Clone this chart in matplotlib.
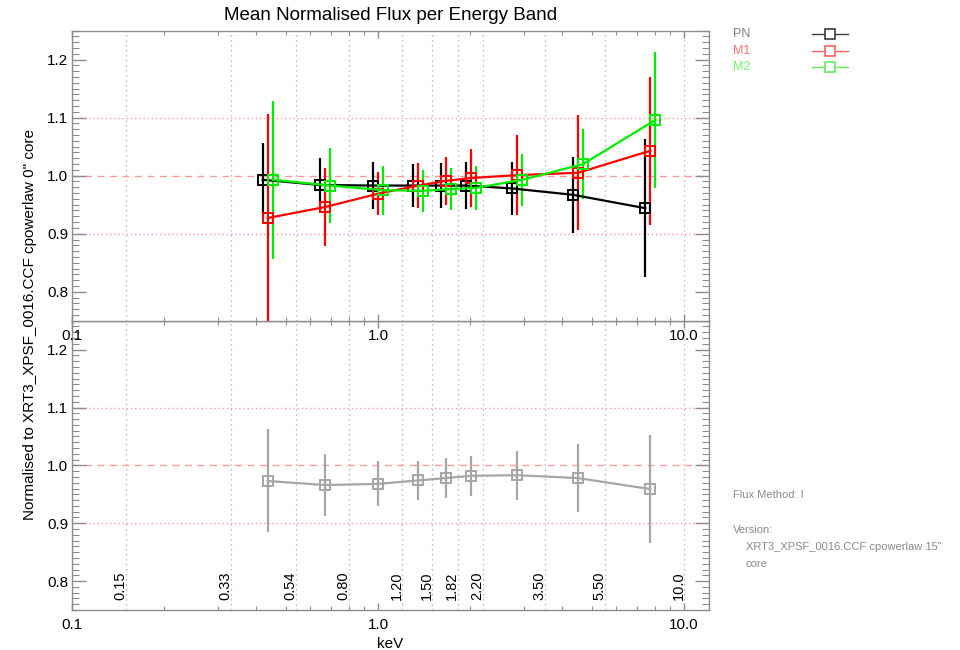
import matplotlib

matplotlib.use("Agg")
import matplotlib.pyplot as plt  # noqa: E402
from matplotlib.lines import Line2D  # noqa: E402
from matplotlib.ticker import FixedLocator, LogLocator, MultipleLocator, NullFormatter  # noqa: E402
import numpy as np  # noqa: E402

plt.rcParams["font.family"] = ["Liberation Sans", "DejaVu Sans"]

# --- data ---
band_edges = [0.15, 0.33, 0.54, 0.80, 1.20, 1.50, 1.82, 2.20, 3.50, 5.50, 10.0]
band_labels = ["0.15", "0.33", "0.54", "0.80", "1.20", "1.50", "1.82", "2.20", "3.50", "5.50", "10.0"]

pn_flux = [0.993, 0.984, 0.983, 0.983, 0.983, 0.983, 0.978, 0.967, 0.944]
pn_err = [0.064, 0.047, 0.040, 0.037, 0.039, 0.040, 0.046, 0.065, 0.119]
m1_flux = [0.927, 0.946, 0.969, 0.983, 0.991, 0.996, 1.001, 1.005, 1.043]
m1_err = [0.180, 0.068, 0.037, 0.039, 0.041, 0.050, 0.069, 0.099, 0.128]
m2_flux = [0.993, 0.983, 0.975, 0.974, 0.977, 0.979, 0.993, 1.020, 1.096]
m2_err = [0.136, 0.065, 0.042, 0.036, 0.037, 0.038, 0.045, 0.060, 0.117]
comb_flux = [0.973, 0.966, 0.968, 0.974, 0.978, 0.982, 0.983, 0.978, 0.959]
comb_err = [0.089, 0.053, 0.039, 0.034, 0.034, 0.035, 0.042, 0.059, 0.094]

# data bands are 0.33-0.54 ... 5.50-10.0, plotted at their arithmetic centre
edges = np.array(band_edges)
centres = 0.5 * (edges[1:-1] + edges[2:])
dodge = 1.038  # small log-space offset so the three cameras don't overlap

FRAME = "#8c8c8c"
PINK = "#ff9a9a"
GRID = "#a8a8a8"


def _style_axes(ax):
    ax.set_xscale("log")
    ax.set_xlim(0.1, 12.05)
    ax.set_ylim(0.75, 1.25)
    for s in ax.spines.values():
        s.set_color(FRAME)
        s.set_linewidth(1.0)
    ax.xaxis.set_major_locator(FixedLocator([0.1, 1.0, 10.0]))
    ax.xaxis.set_minor_locator(LogLocator(base=10, subs=np.arange(2, 10)))
    ax.xaxis.set_minor_formatter(NullFormatter())
    ax.set_xticklabels(["0.1", "1.0", "10.0"])
    ax.yaxis.set_major_locator(FixedLocator([0.8, 0.9, 1.0, 1.1, 1.2]))
    ax.yaxis.set_minor_locator(MultipleLocator(0.01))
    ax.set_yticklabels(["0.8", "0.9", "1.0", "1.1", "1.2"])
    ax.tick_params(axis="both", which="both", direction="in", colors=FRAME,
                   labelcolor="black", labelsize=11, top=True, right=True)
    ax.tick_params(axis="y", which="major", length=10, width=1, pad=3)
    ax.tick_params(axis="y", which="minor", length=5, width=0.8)
    ax.tick_params(axis="x", which="major", length=5, width=1, pad=6)
    ax.tick_params(axis="x", which="minor", length=3, width=0.8)
    # band-edge verticals and reference levels
    for e in band_edges:
        ax.axvline(e, color=GRID, lw=0.9, ls=(0, (1, 3)), zorder=0)
    ax.axhline(1.1, color=PINK, lw=1.0, ls=(0, (1, 2)), zorder=0)
    ax.axhline(0.9, color=PINK, lw=1.0, ls=(0, (1, 2)), zorder=0)
    ax.axhline(1.0, color=PINK, lw=1.0, ls=(0, (5, 4)), zorder=0)


fig = plt.figure(figsize=(9.6, 6.5), dpi=100)
ax1 = fig.add_axes([0.0753, 0.5066, 0.6632, 0.4462])
ax2 = fig.add_axes([0.0753, 0.0615, 0.6632, 0.4451])
ax1.set_zorder(3)  # keep the upper panel's x labels above the lower panel
_style_axes(ax1)
_style_axes(ax2)

series = [
    ("PN", pn_flux, pn_err, "black", 1 / dodge),
    ("M1", m1_flux, m1_err, "#ff0000", 1.0),
    ("M2", m2_flux, m2_err, "#00ee00", dodge),
]
for name, y, err, col, f in series:
    ax1.errorbar(centres * f, y, yerr=err, color=col, lw=1.6, elinewidth=1.6,
                 marker="s", ms=6.5, mfc="none", mec=col, mew=1.4, capsize=0)

ax2.errorbar(centres, comb_flux, yerr=comb_err, color="#a6a6a6", lw=1.6,
             elinewidth=1.6, marker="s", ms=7, mfc="none", mec="#a6a6a6",
             mew=1.4, capsize=0)

# rotated band-edge labels along the bottom panel
for e, lab in zip(band_edges, band_labels):
    ax2.annotate(lab, xy=(e, 0.75), xytext=(1, 7), textcoords="offset points",
                 rotation=90, ha="right", va="bottom", fontsize=10.5)

ax2.set_xlabel("keV", fontsize=11, labelpad=3)
fig.text(0.4068, 1 - 15 / 650, "Mean Normalised Flux per Energy Band",
         ha="center", va="center", fontsize=13.5)
fig.text(0.031, 0.5, "Normalised to XRT3_XPSF_0016.CCF cpowerlaw 0\" core",
         rotation=90, ha="center", va="center", fontsize=11)

# hand-drawn legend to the right
legend_rows = [("PN", "#808080", "#3c3c3c", 34), ("M1", "#ff7070", "#ff6060", 51),
               ("M2", "#70ee70", "#60ee60", 67)]
for lab, tcol, lcol, ypx in legend_rows:
    yf = 1 - ypx / 650
    fig.text(733 / 960, yf, lab, color=tcol, fontsize=9, va="center", ha="left")
    fig.add_artist(Line2D([812 / 960, 848 / 960], [yf, yf], transform=fig.transFigure,
                          color=lcol, lw=1.0))
    fig.add_artist(Line2D([830 / 960], [yf], transform=fig.transFigure, marker="s",
                          ms=6.5, mfc="white", mec=lcol, mew=1.2, ls="none"))

info = "#8a8a8a"
fig.text(733 / 960, 1 - 495 / 650, "Flux Method: I", color=info, fontsize=8, va="center")
fig.text(733 / 960, 1 - 530 / 650, "Version:", color=info, fontsize=8, va="center")
fig.text(746 / 960, 1 - 547 / 650, "XRT3_XPSF_0016.CCF cpowerlaw 15\"", color=info,
         fontsize=8, va="center")
fig.text(746 / 960, 1 - 564 / 650, "core", color=info, fontsize=8, va="center")

fig.savefig("out.png", dpi=100)
plt.close(fig)
